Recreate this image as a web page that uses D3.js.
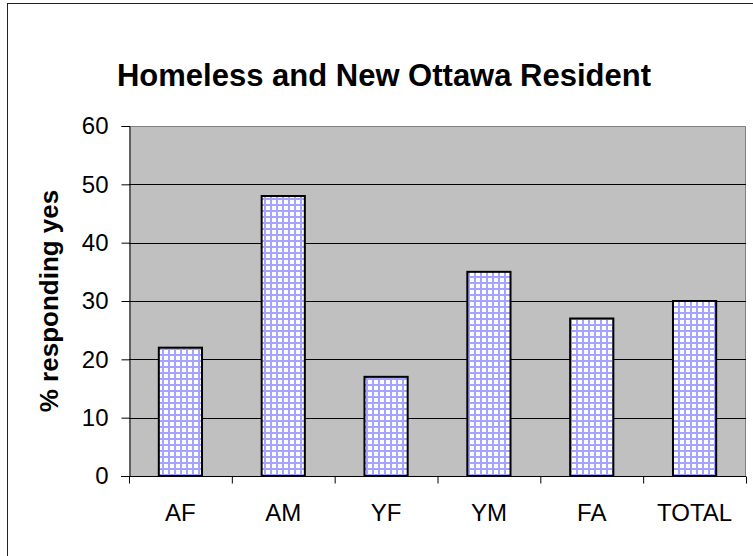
<!DOCTYPE html>
<html>
<head>
<meta charset="utf-8">
<script src="https://cdn.jsdelivr.net/npm/d3@7"></script>
<style>
  body { margin: 0; background: #fff; }
  svg { display: block; font-family: Arial, "Liberation Sans", sans-serif; }
</style>
</head>
<body>
<script>
'use strict';

// chart data
let categories = ["AF", "AM", "YF", "YM", "FA", "TOTAL"];
let values = [22, 48, 17, 35, 27, 30];
let yTicks = [0, 10, 20, 30, 40, 50, 60];

(function() {

  let width = 753;
  let height = 556;

  // plot area
  let plotLeft = 129, plotRight = 746, plotTop = 126, plotBottom = 476;

  let svg = d3.select('body')
    .append('svg')
    .attr('width', width)
    .attr('height', height);

  // grid pattern for the bars
  let pat = svg.append('defs').append('pattern')
    .attr('id', 'grid')
    .attr('patternUnits', 'userSpaceOnUse')
    .attr('width', 6)
    .attr('height', 6);
  pat.append('rect')
    .attr('width', 6).attr('height', 6)
    .attr('fill', '#ffffff');
  pat.append('rect')
    .attr('width', 2).attr('height', 6)
    .attr('fill', '#a4a4ff');
  pat.append('rect')
    .attr('width', 6).attr('height', 2)
    .attr('fill', '#a4a4ff');

  // outer chart border (runs off the right/bottom of the picture)
  svg.append('rect')
    .attr('x', 7.5)
    .attr('y', 3.5)
    .attr('width', 800)
    .attr('height', 600)
    .attr('fill', 'none')
    .attr('stroke', '#222');

  // scales
  let xScale = d3.scaleBand()
    .domain(categories)
    .range([plotLeft, plotRight]);

  let yScale = d3.scaleLinear()
    .domain([0, 60])
    .range([plotBottom, plotTop]);

  // plot background
  svg.append('rect')
    .attr('x', plotLeft)
    .attr('y', plotTop)
    .attr('width', plotRight - plotLeft)
    .attr('height', plotBottom - plotTop)
    .attr('fill', '#c0c0c0');

  // plot frame top/right in gray
  svg.append('path')
    .attr('d', `M${plotLeft},${plotTop + 0.5}H${plotRight - 0.5}V${plotBottom}`)
    .attr('fill', 'none')
    .attr('stroke', '#808080');

  // horizontal gridlines
  svg.append('g')
    .selectAll('line')
    .data(yTicks.filter(d => d > 0 && d < 60))
    .enter()
    .append('line')
    .attr('x1', plotLeft)
    .attr('x2', plotRight)
    .attr('y1', d => Math.round(yScale(d)) + 0.5)
    .attr('y2', d => Math.round(yScale(d)) + 0.5)
    .attr('stroke', '#000');

  // bars
  let barW = xScale.bandwidth() * 0.42;
  svg.append('g')
    .selectAll('rect')
    .data(values)
    .enter()
    .append('rect')
    .attr('x', (d, i) => xScale(categories[i]) + (xScale.bandwidth() - barW) / 2)
    .attr('y', d => yScale(d))
    .attr('width', barW)
    .attr('height', d => plotBottom - yScale(d))
    .attr('fill', 'url(#grid)')
    .attr('stroke', '#000')
    .attr('stroke-width', 2);

  // y axis
  let yAxis = d3.axisLeft(yScale)
    .tickValues(yTicks)
    .tickSize(8)
    .tickPadding(13);
  let yG = svg.append('g')
    .attr('transform', `translate(${plotLeft + 0.5},0)`)
    .call(yAxis);
  yG.select('.domain').attr('stroke', '#000');
  yG.selectAll('.tick line').attr('stroke', '#000');
  yG.selectAll('text')
    .style('font-size', '24px')
    .attr('fill', '#000');

  // x axis: ticks sit between categories
  let xAxisG = svg.append('g')
    .attr('transform', `translate(0,${plotBottom + 0.5})`);
  xAxisG.append('line')
    .attr('x1', plotLeft - 8)
    .attr('x2', plotRight)
    .attr('stroke', '#000');
  xAxisG.selectAll('.sep')
    .data(categories)
    .enter()
    .append('line')
    .attr('class', 'sep')
    .attr('x1', d => xScale(d) + xScale.bandwidth() + 0.5)
    .attr('x2', d => xScale(d) + xScale.bandwidth() + 0.5)
    .attr('y1', 0)
    .attr('y2', 7)
    .attr('stroke', '#000');
  xAxisG.append('line')
    .attr('x1', plotLeft + 0.5).attr('x2', plotLeft + 0.5)
    .attr('y1', 0).attr('y2', 7)
    .attr('stroke', '#000');
  xAxisG.selectAll('.lab')
    .data(categories)
    .enter()
    .append('text')
    .attr('class', 'lab')
    .attr('x', d => xScale(d) + xScale.bandwidth() / 2)
    .attr('y', 44)
    .attr('text-anchor', 'middle')
    .style('font-size', '24px')
    .text(d => d);

  // title
  svg.append('text')
    .attr('x', 384)
    .attr('y', 86)
    .attr('text-anchor', 'middle')
    .style('font-size', '31px')
    .style('font-weight', 'bold')
    .text('Homeless and New Ottawa Resident');

  // y label
  svg.append('text')
    .attr('transform', `translate(58,${(plotTop + plotBottom) / 2}) rotate(-90)`)
    .attr('text-anchor', 'middle')
    .style('font-size', '26px')
    .style('font-weight', 'bold')
    .text('% responding yes');

})();
</script>
</body>
</html>
